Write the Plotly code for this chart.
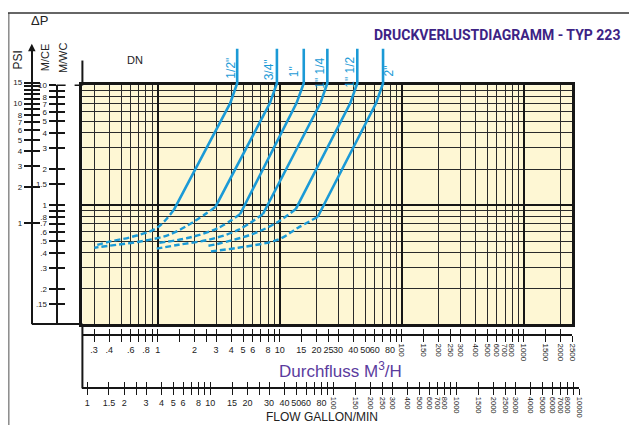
import math
import plotly.graph_objects as go

# ---------------------------------------------------------------- data
# pressure-loss curves per DN, flow in m3/h, loss in m water column
dn_labels = ['1/2"', '3/4"', '1"', '1" 1/4', '1" 1/2', '2"']

solid_q = [
    [4.47, 4.47, 3.92, 1.35],
    [9.46, 9.46, 8.29, 2.96],
    [15.7, 15.7, 13.7, 4.73],
    [24.5, 24.5, 21.5, 7.27],
    [43.1, 43.1, 37.8, 13.5],
    [70.1, 70.1, 61.5, 20.4],
]
solid_h = [
    [20.2, 10.4, 7.10, 0.909],
    [20.2, 10.4, 7.10, 0.963],
    [20.2, 10.4, 7.10, 0.843],
    [20.2, 10.4, 7.10, 0.843],
    [20.2, 10.4, 7.10, 0.927],
    [20.2, 10.4, 7.10, 0.796],
]
dashed_q = [
    [1.35, 0.98, 0.615, 0.40, 0.302],
    [2.96, 1.96, 1.23, 0.701, 0.40, 0.302],
    [4.73, 3.13, 1.79, 1.02],
    [7.27, 4.56, 2.60, 1.48, 0.98],
    [13.5, 9.63, 6.03, 3.13, 2.60],
    [20.4, 14.0, 9.63, 4.56, 2.60],
]
dashed_h = [
    [0.909, 0.645, 0.544, 0.495, 0.458],
    [0.963, 0.724, 0.565, 0.495, 0.458, 0.441],
    [0.843, 0.645, 0.534, 0.485],
    [0.843, 0.621, 0.514, 0.467, 0.433],
    [0.927, 0.724, 0.576, 0.476, 0.458],
    [0.796, 0.645, 0.514, 0.441, 0.409],
]

# scale ticks
m3h_flat = [0.3, 0.4, 0.5, 0.6, 0.7, 0.8, 0.9, 1, 1.5, 2, 2.5, 3, 4, 5, 6, 7, 8, 9,
            10, 15, 20, 25, 30, 40, 50, 60, 70, 80, 90]
m3h_flat_txt = [".3", ".4", "", ".6", "", ".8", "", "1", "", "2", "", "3", "4", "5", "6", "", "8", "",
                "10", "15", "20", "25", "30", "40", "50", "60", "", "80", ""]
m3h_up = [100, 150, 200, 250, 300, 400, 500, 600, 700, 800, 900, 1000, 1500, 2000, 2500]
m3h_up_txt = ["100", "150", "200", "250", "300", "400", "500", "600", "700", "800", "",
              "1000", "1500", "2000", "2500"]

gpm_flat = [1, 1.5, 2, 2.5, 3, 4, 5, 6, 7, 8, 9, 10, 15, 20, 25, 30, 40, 50, 60, 70, 80, 90]
gpm_flat_txt = ["1", "1.5", "2", "", "3", "4", "5", "6", "", "8", "", "10", "15", "20", "",
                "30", "40", "50", "60", "", "80", ""]
gpm_up = [100, 150, 200, 250, 300, 400, 500, 600, 700, 800, 900, 1000, 1500, 2000, 2500,
          3000, 4000, 5000, 6000, 7000, 8000, 9000, 10000]
gpm_up_txt = ["100", "150", "200", "250", "300", "400", "500", "600", "700", "800", "",
              "1000", "1500", "2000", "2500", "3000", "4000", "5000", "6000", "7000", "8000",
              "", "10000"]

psi_ticks = [15, 14, 13, 12, 11, 10, 9, 8, 7, 6, 5, 4, 3, 2, 1]
psi_txt = ["15", "", "", "", "", "10", "", "8", "7", "6", "5", "4", "3", "2", "1"]

mce_ticks = [10, 9, 8, 7, 6, 5, 4, 3, 2, 1.5, 1, 0.9, 0.8, 0.7, 0.6, 0.5, 0.4, 0.3, 0.2, 0.15]
mce_txt = ["10", "", "8", "7", "6", "5", "4", "3", "2", "1.5", "1", "", ".8", ".7", ".6",
           ".5", ".4", ".3", ".2", ".15"]

# ---------------------------------------------------------------- layout geometry
# the page body keeps its 8px margin, so the figure is placed from (8, 8)
OFF = 8
W, H = 638 - OFF, 425 - OFF


def fx(p):
    return (p - OFF) / W


def fy(p):
    return 1 - (p - OFF) / H


LEFT, RIGHT, TOP, BOT = 83, 577, 82, 323
CURVE_TOP = 42
X_RNG = [-0.618, 3.398]
Y_RNG = [-0.992, 1.0]
Y_EXT = [-0.992, 1.0 + (TOP - CURVE_TOP) / 121]
PSI_OFF = -math.log10(0.703)
GPM_RNG = [-0.040, 4.0]
GPM_RIGHT = 584

BLUE = "#1b9ad6"
INK = "#161616"


def hscale(dom, rng, pos, vals, txt, ticks, angle=0, line=True, size=9):
    return dict(
        type="log", range=rng, domain=[fx(dom[0]), fx(dom[1])],
        anchor="free", position=fy(pos), tickmode="array", tickvals=vals,
        ticktext=txt if txt else [""] * len(vals), ticks=ticks, ticklen=6,
        tickwidth=1.2, tickcolor=INK, showline=line, linecolor=INK, linewidth=2,
        showgrid=False, zeroline=False, tickangle=angle,
        tickfont=dict(family="Liberation Sans", size=size, color="#222"),
        showticklabels=bool(txt), fixedrange=True,
    )


def vscale(dom, rng, pos, vals, txt, ticks, line=True, size=8):
    return dict(
        type="log", range=rng, domain=[fy(dom[1]), fy(dom[0])],
        anchor="free", position=fx(pos), side="left", tickmode="array",
        tickvals=vals, ticktext=txt if txt else [""] * len(vals), ticks=ticks,
        ticklen=7, tickwidth=1.5, tickcolor=INK, showline=line, linecolor=INK,
        linewidth=2, showgrid=False, zeroline=False,
        tickfont=dict(family="Liberation Sans", size=size, color="#222"),
        showticklabels=bool(txt), fixedrange=True,
    )


fig = go.Figure()

# curves
for i, name in enumerate(dn_labels):
    fig.add_trace(go.Scatter(x=solid_q[i], y=solid_h[i], mode="lines", xaxis="x2", yaxis="y2",
                             line=dict(color=BLUE, width=2.6), name=name, hoverinfo="skip"))
    fig.add_trace(go.Scatter(x=dashed_q[i], y=dashed_h[i], mode="lines", xaxis="x2", yaxis="y2",
                             line=dict(color=BLUE, width=2.4, dash="6px,3px", shape="spline"),
                             name=name, hoverinfo="skip"))

# empty traces so that every scale axis gets a subplot
fig.add_trace(go.Scatter(x=[], y=[], xaxis="x", yaxis="y"))
for ax in ["x3", "x4", "x5", "x6", "x7", "x8"]:
    fig.add_trace(go.Scatter(x=[], y=[], xaxis=ax, yaxis="y7"))
for ay in ["y3", "y4", "y5", "y6"]:
    fig.add_trace(go.Scatter(x=[], y=[], xaxis="x9", yaxis=ay))

decades_x = [0.1, 1, 10, 100, 1000]
digits_x = [d * m for m in [0.1, 1, 10, 100, 1000] for d in range(2, 10)]
decades_y = [0.1, 1, 10]
digits_y = [d * m for m in [0.1, 1] for d in range(2, 10)]

fig.update_layout(
    width=W, height=H, margin=dict(l=0, r=0, t=0, b=0),
    paper_bgcolor="white", plot_bgcolor="rgba(0,0,0,0)", showlegend=False,
    xaxis=dict(type="log", range=X_RNG, domain=[fx(LEFT), fx(RIGHT)], anchor="y",
               tickmode="array", tickvals=decades_x, showticklabels=False, ticks="",
               showgrid=True, gridcolor=INK, gridwidth=2.2,
               minor=dict(tickmode="array", tickvals=digits_x, showgrid=True,
                          gridcolor="#2a2a2a", gridwidth=1.4, ticks=""),
               showline=True, mirror=True, linecolor=INK, linewidth=2.5,
               zeroline=False, fixedrange=True),
    yaxis=dict(type="log", range=Y_RNG, domain=[fy(BOT), fy(TOP)], anchor="x",
               tickmode="array", tickvals=decades_y, showticklabels=False, ticks="",
               showgrid=True, gridcolor=INK, gridwidth=2.4,
               minor=dict(tickmode="array", tickvals=digits_y, showgrid=True,
                          gridcolor="#2a2a2a", gridwidth=1.4, ticks=""),
               showline=True, mirror=True, linecolor=INK, linewidth=2.5,
               zeroline=False, fixedrange=True),
    xaxis2=dict(type="log", range=X_RNG, domain=[fx(LEFT), fx(RIGHT)], anchor="y2",
                visible=False, fixedrange=True),
    yaxis2=dict(type="log", range=Y_EXT, domain=[fy(BOT), fy(CURVE_TOP)], anchor="x2",
                visible=False, fixedrange=True),
    xaxis3=hscale((LEFT, RIGHT), X_RNG, 334, m3h_flat, m3h_flat_txt, "outside"),
    xaxis4=hscale((LEFT, RIGHT), X_RNG, 334, m3h_up, m3h_up_txt, "outside", angle=90, size=8),
    xaxis5=hscale((LEFT, RIGHT), X_RNG, 334, m3h_flat + m3h_up, None, "inside", line=False),
    xaxis6=hscale((LEFT, GPM_RIGHT), GPM_RNG, 388, gpm_flat, gpm_flat_txt, "outside"),
    xaxis7=hscale((LEFT, GPM_RIGHT), GPM_RNG, 388, gpm_up, gpm_up_txt, "outside", angle=90,
                  size=7.5),
    xaxis8=hscale((LEFT, GPM_RIGHT), GPM_RNG, 388, gpm_flat + gpm_up, None, "inside", line=False),
    xaxis9=dict(visible=False, domain=[0, 1], anchor="y5", fixedrange=True),
    yaxis3=vscale((CURVE_TOP, BOT), [Y_EXT[0] + PSI_OFF, Y_EXT[1] + PSI_OFF], 32,
                  psi_ticks, psi_txt, "outside"),
    yaxis4=vscale((CURVE_TOP, BOT), [Y_EXT[0] + PSI_OFF, Y_EXT[1] + PSI_OFF], 32,
                  psi_ticks, None, "inside", line=False),
    yaxis5=vscale((TOP, BOT), Y_RNG, 57, mce_ticks, mce_txt, "outside"),
    yaxis6=vscale((TOP, BOT), Y_RNG, 57, mce_ticks, None, "inside", line=False),
    yaxis7=dict(visible=False, domain=[0, 1], anchor="x3", fixedrange=True),
)

# cream paper of the diagram
fig.add_shape(type="rect", xref="x domain", yref="y domain", x0=0, x1=1, y0=0, y1=1,
              fillcolor="#fef7d4", line_width=0, layer="below")

# frame lines of the printed sheet
frame = [
    (OFF + 0.8, 9, OFF + 0.8, 425, "#8a8a8a", 1.5, "solid"),
    (OFF, 9, 634, 9, "#333", 1.5, "solid"),
    (32, BOT, LEFT, BOT, INK, 2, "solid"),
    (LEFT, BOT, LEFT, 388, INK, 2, "solid"),
    (LEFT, 57, LEFT, TOP, INK, 2, "solid"),
    (57, TOP, LEFT, TOP, INK, 1.5, "dash"),
]
for x0, y0, x1, y1, c, w, d in frame:
    fig.add_shape(type="line", xref="paper", yref="paper", x0=fx(x0), y0=fy(y0),
                  x1=fx(x1), y1=fy(y1), line=dict(color=c, width=w, dash=d))

# DN labels above the curves
label_shift = [-6, -7, -9, -7, -7, 6]
label_y = [65, 66, 68, 70, 69, 68]
for i, name in enumerate(dn_labels):
    fig.add_annotation(x=math.log10(solid_q[i][0]), xref="x2", y=fy(label_y[i]), yref="paper",
                       text=name, textangle=-90, showarrow=False, xshift=label_shift[i],
                       xanchor="center", yanchor="middle",
                       font=dict(family="Liberation Sans", size=12, color=BLUE))


def note(text, x, y, size, color="#222", angle=0, family="Liberation Sans", anchor="center"):
    fig.add_annotation(x=fx(x), y=fy(y), xref="paper", yref="paper", text=text,
                       showarrow=False, textangle=angle, xanchor=anchor, yanchor="middle",
                       font=dict(family=family, size=size, color=color))


note("ΔP", 40, 17, 13)
note("PSI", 18, 56, 12, angle=-90)
note("M/CE", 45, 54, 11, angle=-90)
note("M/WC", 63, 54, 11, angle=-90)
note("DN", 136, 56, 11)
note("<b>DRUCKVERLUSTDIAGRAMM - TYP 223</b>", 627, 31, 14, color="#3d2385",
     family="Roboto", anchor="right")
note("Durchfluss M<sup>3</sup>/H", 343, 369, 17, color="#5b3c9e")
note("FLOW GALLON/MIN", 325, 417, 12, color="#222")

# arrow head on the PSI scale
fig.add_annotation(x=fx(32), y=fy(CURVE_TOP - 2), xref="paper", yref="paper", ax=0, ay=14,
                   showarrow=True, arrowhead=2, arrowsize=1, arrowwidth=1.5,
                   arrowcolor=INK, text="")

fig.write_html("out.html")
